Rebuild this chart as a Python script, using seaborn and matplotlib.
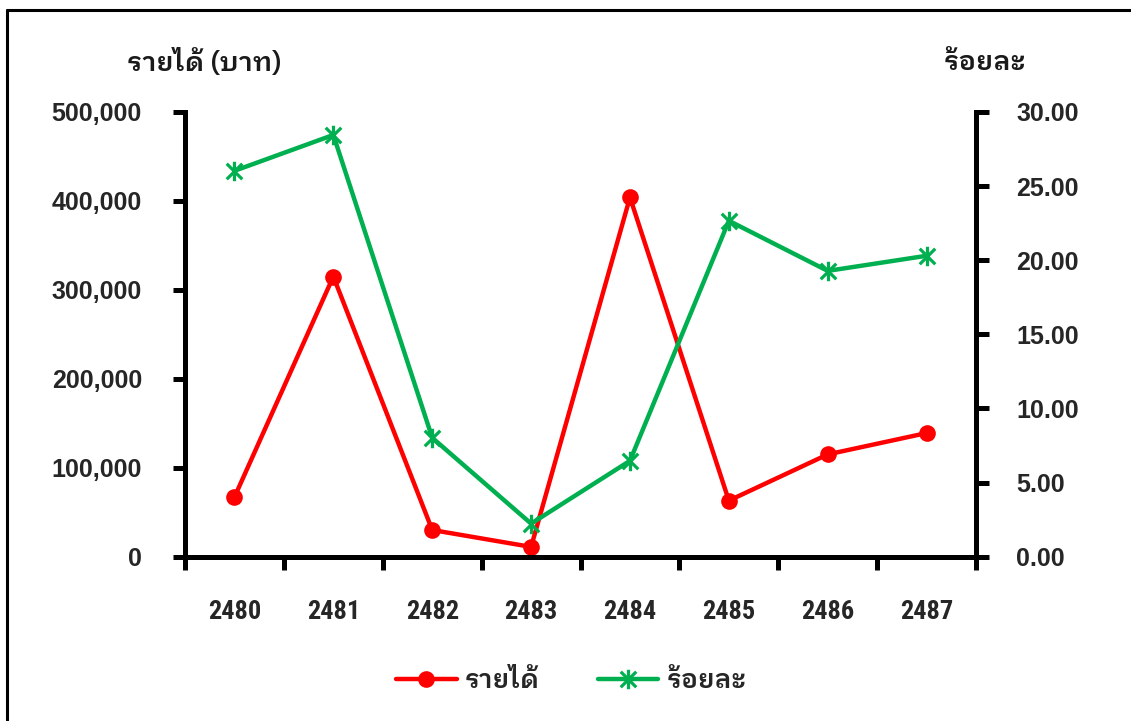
import matplotlib
matplotlib.use("Agg")
import matplotlib.pyplot as plt
import matplotlib.ticker as mticker
from matplotlib.path import Path
from matplotlib.lines import Line2D
import seaborn as sns
import pandas as pd

# Data
years = [2480, 2481, 2482, 2483, 2484, 2485, 2486, 2487]
income = [67000, 315000, 30000, 11000, 404000, 63000, 115000, 139000]
percent = [26.03, 28.45, 8.02, 2.23, 6.47, 22.66, 19.28, 20.30]

income_label = "รายได้"
percent_label = "ร้อยละ"
left_title = "รายได้ (บาท)"
right_title = "ร้อยละ"

df = pd.DataFrame({"year": years, "income": income, "percent": percent})

sns.set_theme(style="white")
THAI = ["IBM Plex Sans Thai Looped", "Noto Sans Thai Looped", "DejaVu Sans"]
NUM = "Liberation Sans"
NUM_X = "Roboto Condensed"

RED = "#FF0000"
GREEN = "#00B050"

# asterisk marker: an X crossed by a vertical stroke
ast = Path(
    [(-1, -1), (1, 1), (-1, 1), (1, -1), (0, -1.25), (0, 1.25)],
    [Path.MOVETO, Path.LINETO, Path.MOVETO, Path.LINETO, Path.MOVETO, Path.LINETO],
)

fig = plt.figure(figsize=(11.31, 7.21), dpi=100)
ax = fig.add_axes([0.1636, 0.2279, 0.863 - 0.1636, 0.8447 - 0.2279])
ax2 = ax.twinx()

sns.lineplot(data=df, x="year", y="income", ax=ax, color=RED, linewidth=3.2,
             marker="o", markersize=12, markeredgewidth=0, legend=False)
sns.lineplot(data=df, x="year", y="percent", ax=ax2, color=GREEN, linewidth=3.2,
             marker=ast, markersize=14, markeredgewidth=2.3,
             markeredgecolor=GREEN, legend=False)

ax.set_xlim(years[0] - 0.5, years[-1] + 0.5)
ax.set_ylim(0, 500000)
ax2.set_ylim(0, 30)

# category boundaries carry the tick marks, labels sit at the centres
ax.xaxis.set_major_locator(mticker.FixedLocator([y - 0.5 for y in years] + [years[-1] + 0.5]))
ax.xaxis.set_major_formatter(mticker.NullFormatter())
ax.xaxis.set_minor_locator(mticker.FixedLocator(years))
ax.xaxis.set_minor_formatter(mticker.FixedFormatter([str(y) for y in years]))

ax.yaxis.set_major_locator(mticker.MultipleLocator(100000))
ax.yaxis.set_major_formatter(mticker.FuncFormatter(lambda v, p: f"{int(v):,}"))
ax2.yaxis.set_major_locator(mticker.MultipleLocator(5))
ax2.yaxis.set_major_formatter(mticker.FuncFormatter(lambda v, p: f"{v:.2f}"))

for a in (ax, ax2):
    a.set_xlabel("")
    a.set_ylabel("")
    a.grid(False)
    a.patch.set_visible(False)
    for s in a.spines.values():
        s.set_linewidth(3.6)
        s.set_color("black")
    a.spines["top"].set_visible(False)

ax.spines["right"].set_visible(False)
ax2.spines["left"].set_visible(False)
ax2.spines["bottom"].set_visible(False)

ax.tick_params(axis="x", which="major", direction="out", length=9, width=3.6,
               color="black", bottom=True)
ax.tick_params(axis="x", which="minor", length=0, pad=31, bottom=True)
ax.tick_params(axis="y", direction="out", length=9, width=3.6, color="black",
               left=True, pad=22)
ax2.tick_params(axis="y", direction="out", length=9, width=3.6, color="black",
                right=True, pad=20)

for lab in ax.get_xticklabels(minor=True):
    lab.set_fontfamily(NUM_X)
    lab.set_fontweight("bold")
    lab.set_fontsize(19)
for lab in ax.get_yticklabels() + ax2.get_yticklabels():
    lab.set_fontfamily(NUM)
    lab.set_fontweight("bold")
    lab.set_fontsize(18)

fig.text(204 / 1131, 1 - 63 / 721, left_title, ha="center", va="center",
         fontsize=19.5, fontweight="semibold", family=THAI, color="#1a1a1a")
fig.text(985 / 1131, 1 - 63 / 721, right_title, ha="center", va="center",
         fontsize=19.5, fontweight="semibold", family=THAI, color="#1a1a1a")

handles = [
    Line2D([], [], color=RED, linewidth=3.2, marker="o", markersize=12,
           markeredgewidth=0),
    Line2D([], [], color=GREEN, linewidth=3.2, marker=ast, markersize=14,
           markeredgewidth=2.3, markeredgecolor=GREEN),
]
fig.legend(handles, [income_label, percent_label], loc="center",
           bbox_to_anchor=(571 / 1131, 1 - 681 / 721), ncol=2, frameon=False,
           handlelength=2.3, handletextpad=0.3, columnspacing=2.2,
           prop={"family": THAI, "size": 19, "weight": "semibold"})

# outer frame (top and left edges)
fig.add_artist(Line2D([7 / 1131, 1.0], [1 - 10 / 721, 1 - 10 / 721],
                      transform=fig.transFigure, color="black", linewidth=2.2))
fig.add_artist(Line2D([7 / 1131, 7 / 1131], [0.0, 1 - 10 / 721],
                      transform=fig.transFigure, color="black", linewidth=2.2))

fig.savefig("out.png", dpi=100, facecolor="white")
